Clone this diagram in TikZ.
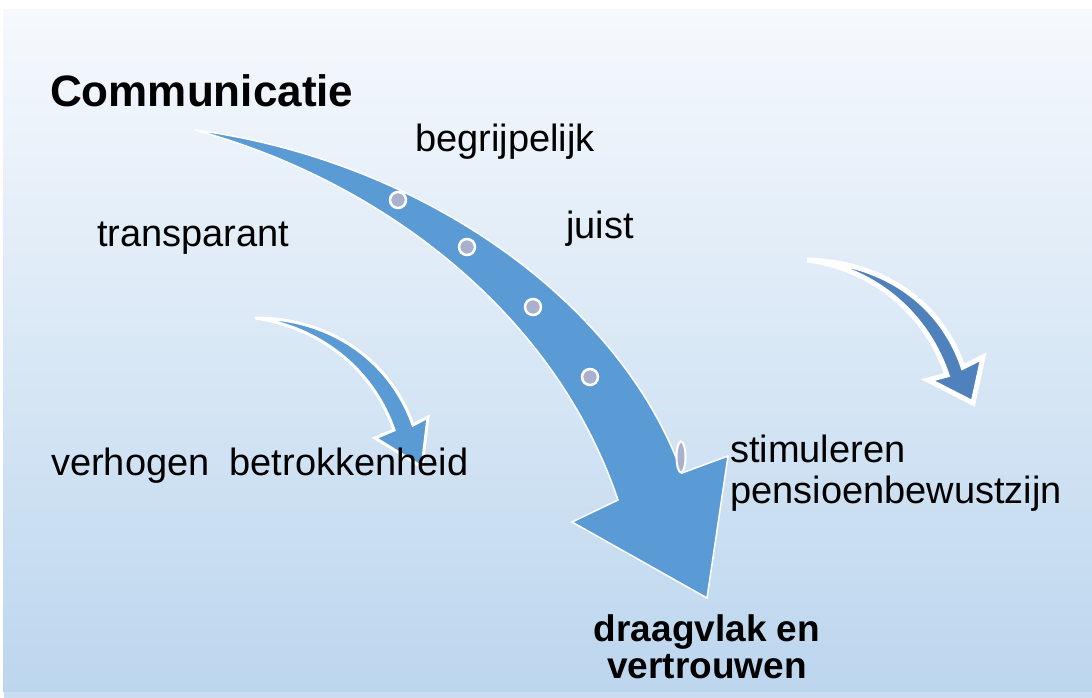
\documentclass[tikz,border=0pt]{standalone}
\usepackage{fontspec}
\setmainfont{Liberation Sans}
\definecolor{bgtop}{HTML}{F6F9FD}
\definecolor{bgbot}{HTML}{BCD6EE}
\definecolor{bgstrip}{HTML}{CADDF0}
\definecolor{arrowblue}{HTML}{5B9BD5}
\definecolor{arrowdark}{HTML}{4F81BD}
\definecolor{dotfill}{HTML}{A9B1CF}
\tikzset{
  lbl/.style={font=\fontsize{38}{40}\selectfont, inner sep=0pt, anchor=base west, text=black},
  boldlbl/.style={font=\bfseries\fontsize{37}{37}\selectfont, inner sep=0pt, align=center, text=black},
  bigarrow/.style={fill=arrowblue, draw=white, line width=1.5pt, line join=miter},
  smallarrow/.style={fill=arrowblue, draw=white, line width=3pt, line join=miter},
  darkarrow/.style={fill=arrowdark, draw=white, line width=5pt, line join=miter},
  dot/.style={fill=dotfill, draw=white, line width=2.5pt}
}
\begin{document}
\begin{tikzpicture}[x=1pt,y=-1pt]
\useasboundingbox (0,0) rectangle (1092,698);
\fill[white] (0,0) rectangle (1092,698);
\shade[top color=bgtop, bottom color=bgbot] (3.5,10) rectangle (1092,692);
\fill[bgstrip] (3.5,692) rectangle (1092,698);

% big arrow
\filldraw[bigarrow] (195,130) .. controls (420,160) and (620,300) .. (682,473)
  -- (728,456) -- (707,598) -- (572,522) -- (618,500)
  .. controls (552,305) and (372,178) .. (195,130) -- cycle;

% dots on the big arrow
\draw[dot] (398,200) circle [radius=8];
\draw[dot] (467,247) circle [radius=8];
\draw[dot] (533,307) circle [radius=8];
\draw[dot] (590,377) circle [radius=8];
\draw[dot, line width=2pt] (681,457) ellipse [x radius=4.5, y radius=15.5];

% small left arrow
\filldraw[smallarrow] (255,318) .. controls (330,318) and (390,360) .. (413,425)
  -- (428,417) -- (422,467) -- (375,438) -- (394,430)
  .. controls (372,367) and (318,327) .. (255,318) -- cycle;

% small right arrow
\filldraw[darkarrow] (807,260) .. controls (880,262) and (940,300) .. (963,367)
  -- (983,357) -- (973,403) -- (928,380) -- (947,375)
  .. controls (925,310) and (870,268) .. (807,260) -- cycle;

% texts
\node[lbl, font=\bfseries\fontsize{44}{46}\selectfont] (comm) at (50,107) {Communicatie};
\node[lbl] (begr) at (415,152) {begrijpelijk};
\node[lbl] (trans) at (97,246) {transparant};
\node[lbl] (juist) at (566,238) {juist};
\node[lbl] (stim) at (730,462) {stimuleren};
\node[lbl] (pens) at (730,503) {pensioenbewustzijn};
\node[lbl] (verh) at (51,475) {verhogen\hspace{0.25em} betrokkenheid};
\node[boldlbl, anchor=south] (draag) at (707,679) {draagvlak en\\vertrouwen};
\end{tikzpicture}
\end{document}
